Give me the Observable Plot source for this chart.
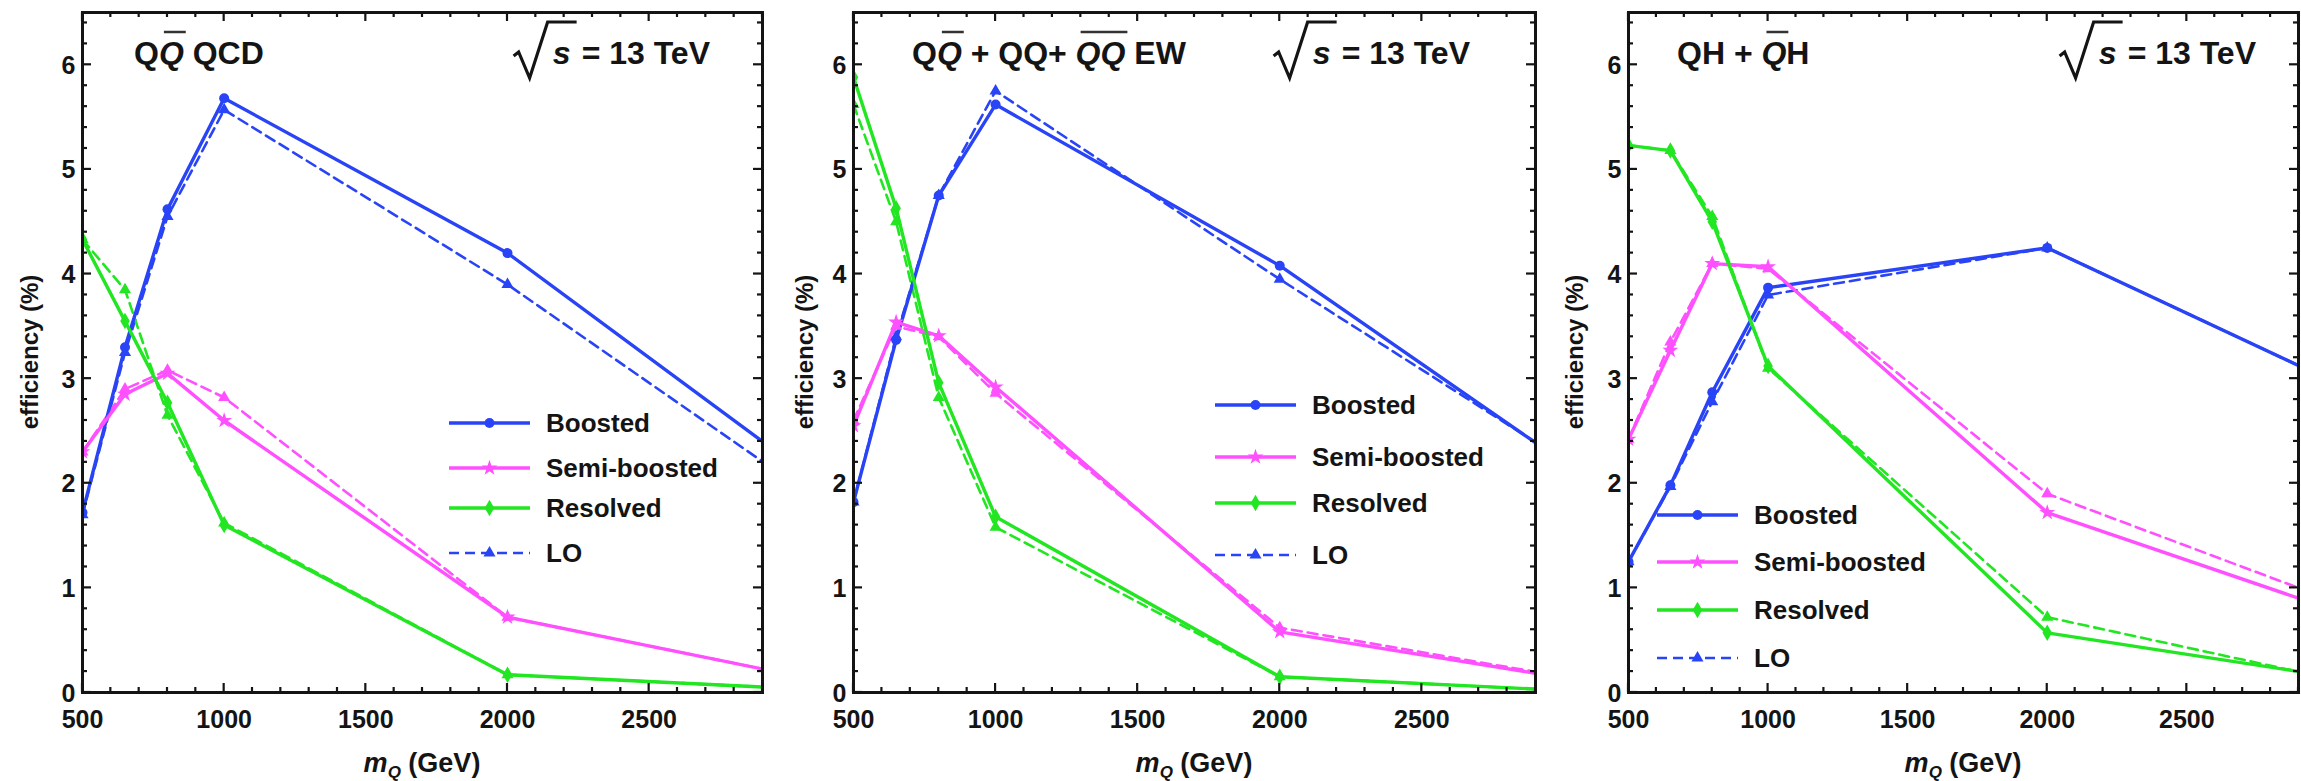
<!DOCTYPE html>
<html><head><meta charset="utf-8">
<script src="https://cdn.jsdelivr.net/npm/d3@7"></script>
<script src="https://cdn.jsdelivr.net/npm/@observablehq/plot@0.6"></script>
<style>
body{margin:0;background:#fff;}
#wrap{position:relative;width:2301px;height:781px;overflow:hidden;background:#fff;}
#wrap svg{position:absolute;top:0;overflow:visible;}
</style></head><body><div id="wrap"></div>
<script>
// ---------- data ----------
const masses = [500, 650, 800, 1000, 2000, 3000];
// Q Qbar QCD
const qcdBoosted    = [1.72, 3.30, 4.62, 5.68, 4.20, 2.20];
const qcdBoostedLO  = [1.70, 3.25, 4.55, 5.57, 3.90, 2.02];
const qcdSemi       = [2.30, 2.85, 3.05, 2.60, 0.72, 0.17];
const qcdSemiLO     = [2.30, 2.90, 3.08, 2.82, 0.72, 0.17];
const qcdResolved   = [4.33, 3.55, 2.77, 1.60, 0.17, 0.04];
const qcdResolvedLO = [4.33, 3.85, 2.65, 1.62, 0.17, 0.04];
// Q Qbar + QQ + Qbar Qbar EW
const ewBoosted     = [1.82, 3.37, 4.75, 5.62, 4.08, 2.20];
const ewBoostedLO   = [1.82, 3.40, 4.75, 5.75, 3.95, 2.22];
const ewSemi        = [2.55, 3.54, 3.41, 2.92, 0.58, 0.14];
const ewSemiLO      = [2.60, 3.50, 3.40, 2.86, 0.62, 0.15];
const ewResolved    = [5.88, 4.63, 2.96, 1.68, 0.15, 0.02];
const ewResolvedLO  = [5.62, 4.50, 2.82, 1.58, 0.15, 0.02];
// QH + Qbar H
const qhBoosted     = [1.25, 1.98, 2.87, 3.87, 4.25, 3.00];
const qhBoostedLO   = [1.25, 1.97, 2.78, 3.80, 4.25, 3.00];
const qhSemi        = [2.42, 3.27, 4.10, 4.07, 1.72, 0.81];
const qhSemiLO      = [2.42, 3.35, 4.10, 4.05, 1.90, 0.90];
const qhResolved    = [5.23, 5.18, 4.50, 3.12, 0.57, 0.16];
const qhResolvedLO  = [5.23, 5.18, 4.55, 3.10, 0.72, 0.14];

const seriesNames  = ["Boosted", "Semi-boosted", "Resolved"];
const legendLabels = ["Boosted", "Semi-boosted", "Resolved", "LO"];
const xTicks = [500, 1000, 1500, 2000, 2500];
const yTicks = [0, 1, 2, 3, 4, 5, 6];
const xDomain = [500, 2900];
const yDomain = [0, 6.5];
const energyLabel = "= 13 TeV";
const yLabel = "efficiency (%)";
const titleQCD = [{t:"Q"},{t:"Q",it:true,over:true},{t:" QCD"}];
const titleEW  = [{t:"Q"},{t:"Q",it:true,over:true},{t:" + QQ+ "},{t:"QQ",it:true,over:true},{t:" EW"}];
const titleQH  = [{t:"QH + "},{t:"Q",it:true,over:true},{t:"H"}];

// ---------- style ----------
const BLUE = "#2944f6", MAGENTA = "#ff50ff", GREEN = "#22e622", INK = "#141414";
const FONT = "'Liberation Sans', Arial, sans-serif";
const colors = [BLUE, MAGENTA, GREEN];
const symbols = ["circle", "star", "diamond"];

const panels = [
  {left:0,    width:770, ml:82, mr:8, title:titleQCD, titleDx:52, gap:52, ylab:-52, legX:367, legYs:[423,468,508,553],
   solid:[qcdBoosted,qcdSemi,qcdResolved], lo:[qcdBoostedLO,qcdSemiLO,qcdResolvedLO]},
  {left:770,  width:770, ml:83, mr:5, title:titleEW,  titleDx:59, gap:65, ylab:-48, legX:362, legYs:[405,457,503,555],
   solid:[ewBoosted,ewSemi,ewResolved], lo:[ewBoostedLO,ewSemiLO,ewResolvedLO]},
  {left:1540, width:761, ml:88, mr:3, title:titleQH,  titleDx:49, gap:42, ylab:-53, legX:29,  legYs:[515,562,610,658],
   solid:[qhBoosted,qhSemi,qhResolved], lo:[qhBoostedLO,qhSemiLO,qhResolvedLO]}
];

const H = 781, MT = 12, MB = 89;
const wrap = document.getElementById("wrap");

function toRows(arrs) {
  const out = [];
  seriesNames.forEach((s, k) => masses.forEach((m, i) => out.push({mass: m, eff: arrs[k][i], series: s})));
  return out;
}

function build(p) {
  const solid = toRows(p.solid), dashed = toRows(p.lo);
  const chart = Plot.plot({
    width: p.width, height: H,
    marginTop: MT, marginBottom: MB, marginLeft: p.ml, marginRight: p.mr,
    style: {fontFamily: FONT, fontWeight: "bold", fontSize: "25px", color: INK, background: "white", overflow: "visible"},
    x: {domain: xDomain},
    y: {domain: yDomain},
    color: {domain: seriesNames, range: colors},
    symbol: {domain: seriesNames, range: symbols},
    marks: [
      Plot.axisX(xTicks, {tickSize: 0, tickPadding: 18, label: null, tickFormat: d => String(d), fontSize: 25}),
      Plot.axisY(yTicks, {tickSize: 0, tickPadding: 7, label: null, dy: 1, tickFormat: d => String(d), fontSize: 25}),
      Plot.line(dashed, {x: "mass", y: "eff", z: "series", stroke: "series", strokeWidth: 2.6, strokeDasharray: "10,6", clip: true}),
      Plot.line(solid, {x: "mass", y: "eff", z: "series", stroke: "series", strokeWidth: 3.4, clip: true}),
      Plot.dot(dashed, {x: "mass", y: "eff", fill: "series", symbol: "triangle", r: 4.5, clip: true}),
      Plot.dot(solid, {x: "mass", y: "eff", fill: "series", symbol: "series", r: 5, clip: true}),
      Plot.frame({stroke: INK, strokeWidth: 3})
    ]
  });
  chart.style.left = p.left + "px";
  wrap.appendChild(chart);
  decorate(chart, p);
}

function txt(sel, size) {
  return sel.attr("font-family", FONT).attr("font-weight", "bold").attr("font-size", size)
    .attr("fill", INK).attr("text-anchor", "start");
}

function decorate(chart, p) {
  const svg = d3.select(chart);
  const sx = chart.scale("x"), sy = chart.scale("y");
  const L = p.ml, R = p.width - p.mr, T = MT, B = H - MB;

  // inward ticks on all four sides
  const g = svg.append("g").attr("stroke", INK).attr("stroke-width", 2.2);
  for (let v = 500; v <= 2900; v += 100) {
    const x = sx.apply(v), len = v % 500 === 0 ? 9 : 5;
    g.append("line").attr("x1", x).attr("x2", x).attr("y1", B).attr("y2", B - len);
    g.append("line").attr("x1", x).attr("x2", x).attr("y1", T).attr("y2", T + len);
  }
  for (let i = 0; i <= 32; i++) {
    const y = sy.apply(i / 5), len = i % 5 === 0 ? 9 : 5;
    g.append("line").attr("x1", L).attr("x2", L + len).attr("y1", y).attr("y2", y);
    g.append("line").attr("x1", R).attr("x2", R - len).attr("y1", y).attr("y2", y);
  }

  // title with overlines
  const tb = 64;
  const title = txt(svg.append("text"), 32).attr("x", L + p.titleDx).attr("y", tb);
  let idx = 0; const overs = [];
  p.title.forEach(seg => {
    const ts = title.append("tspan").text(seg.t);
    if (seg.it) ts.attr("font-style", "italic");
    if (seg.over) overs.push([idx, idx + seg.t.length - 1]);
    idx += seg.t.length;
  });
  const tn = title.node();
  overs.forEach(([a, b]) => {
    const x1 = tn.getStartPositionOfChar(a).x + 5, x2 = tn.getEndPositionOfChar(b).x + 2;
    svg.append("line").attr("x1", x1).attr("x2", x2).attr("y1", tb - 32).attr("y2", tb - 32)
      .attr("stroke", "#333").attr("stroke-width", 2.5);
  });

  // sqrt(s) = 13 TeV
  const xr = R - p.gap;
  const en = txt(svg.append("text"), 32).attr("x", xr).attr("y", tb).attr("text-anchor", "end").text(energyLabel);
  const xe = xr - en.node().getComputedTextLength();
  txt(svg.append("text"), 32).attr("x", xe - 29).attr("y", tb).attr("font-style", "italic").text("s");
  svg.append("path")
    .attr("d", `M${xe-68},${tb-8} L${xe-63},${tb-12} L${xe-52},${tb+14} L${xe-34},${tb-42} L${xe-5},${tb-42}`)
    .attr("fill", "none").attr("stroke", INK).attr("stroke-width", 3.2).attr("stroke-linejoin", "miter");

  // y label
  txt(svg.append("text"), 24).attr("transform", `translate(${L + p.ylab},${(T + B) / 2}) rotate(-90)`)
    .attr("text-anchor", "middle").attr("dy", "0.35em").text(yLabel);

  // x label  m_Q (GeV)
  const xl = txt(svg.append("text"), 27).attr("x", (L + R) / 2).attr("y", 772).attr("text-anchor", "middle");
  xl.append("tspan").attr("font-style", "italic").text("m");
  xl.append("tspan").attr("font-style", "italic").attr("font-size", 17).attr("dy", 6).text("Q");
  xl.append("tspan").attr("dy", -6).text(" (GeV)");

  // legend
  const lg = svg.append("g");
  const legColors = [BLUE, MAGENTA, GREEN, BLUE];
  const legSyms = [d3.symbolCircle, d3.symbolStar, d3.symbolDiamond, d3.symbolTriangle];
  legendLabels.forEach((lab, i) => {
    const y = p.legYs[i], x0 = L + p.legX, x1 = x0 + 81;
    const ln = lg.append("line").attr("x1", x0).attr("x2", x1).attr("y1", y).attr("y2", y)
      .attr("stroke", legColors[i]).attr("stroke-width", i === 3 ? 2.6 : 3.4);
    if (i === 3) ln.attr("stroke-dasharray", "10,6");
    lg.append("path").attr("transform", `translate(${(x0 + x1) / 2},${y})`)
      .attr("d", d3.symbol(legSyms[i], Math.PI * (i === 3 ? 20 : 25))()).attr("fill", legColors[i]);
    txt(lg.append("text"), 26).attr("x", x0 + 97).attr("y", y).attr("dy", "0.35em").text(lab);
  });
}

panels.forEach(build);
</script>
</body></html>
